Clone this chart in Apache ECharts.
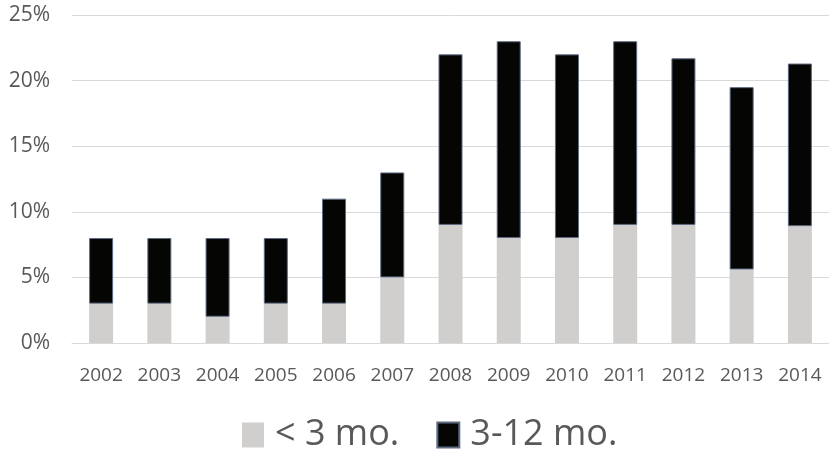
<!DOCTYPE html>
<html><head><meta charset="utf-8">
<script src="https://cdn.jsdelivr.net/npm/echarts@6/dist/echarts.min.js"></script>
<style>html,body{margin:0;padding:0;background:#fff}#c{width:829px;height:452px}</style>
</head><body><div id="c"></div>
<script>
var years = ['2002','2003','2004','2005','2006','2007','2008','2009','2010','2011','2012','2013','2014'];
var under3 = [3, 3, 2, 3, 3, 5, 9, 8, 8, 9, 9, 5.6, 8.9];
var from3to12 = [5, 5, 6, 5, 8, 8, 13, 15, 14, 14, 12.7, 13.9, 12.4];
var yTicks = [0, 5, 10, 15, 20, 25];

var chart = echarts.init(document.getElementById('c'));
chart.setOption({
  animation: false,
  grid: {left: 72, top: 15, width: 760, height: 328, containLabel: false},
  legend: {
    top: 412, left: 237, itemWidth: 22, itemHeight: 25, itemGap: 37, icon: 'rect',
    textStyle: {fontFamily: 'Open Sans', fontSize: 36, color: '#595959', padding: [0, 0, 0, 6]},
    data: ['< 3 mo.', '3-12 mo.']
  },
  xAxis: {
    type: 'category', data: years,
    axisLine: {lineStyle: {color: '#d9d9d9'}}, axisTick: {show: false},
    axisLabel: {interval: 0, fontFamily: 'Open Sans', fontSize: 19, color: '#595959', margin: 23}
  },
  yAxis: {
    type: 'value', min: 0, max: 25, interval: 5,
    axisLabel: {fontFamily: 'Open Sans', fontSize: 21, color: '#595959', margin: 22,
      formatter: function(v){ return yTicks.indexOf(v) >= 0 ? v + '%' : ''; }},
    splitLine: {lineStyle: {color: '#d9d9d9', width: 1}},
    axisLine: {show: false}, axisTick: {show: false}
  },
  series: [
    {name: '< 3 mo.', type: 'bar', stack: 'a', data: under3, barWidth: 24,
     itemStyle: {color: '#d0cfcd'}},
    {name: '3-12 mo.', type: 'bar', stack: 'a', data: from3to12, barWidth: 24,
     itemStyle: {color: '#050604', borderColor: '#5d6a80', borderWidth: 1}}
  ]
});
</script></body></html>
